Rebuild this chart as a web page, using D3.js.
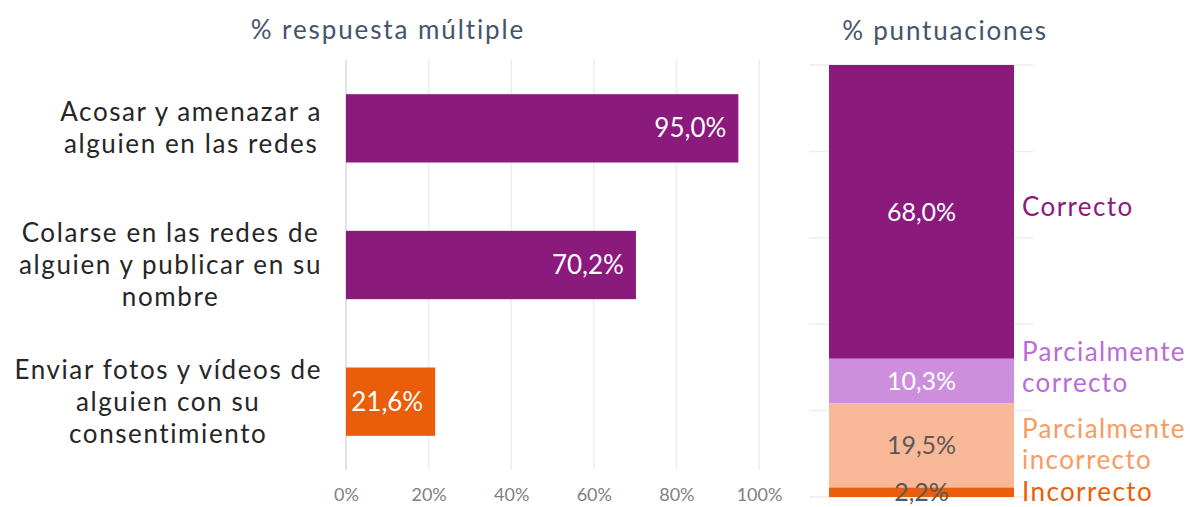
<!DOCTYPE html>
<html>
<head>
<meta charset="utf-8">
<script src="https://cdnjs.cloudflare.com/ajax/libs/d3/7.8.5/d3.min.js"></script>
<style>
  body { margin: 0; background: #fff; }
  text { font-family: "Lato", "Noto Sans", sans-serif; }
</style>
</head>
<body>
<script>
// left chart: % respuesta múltiple
var categories = [
  ["Acosar y amenazar a", "alguien en las redes"],
  ["Colarse en las redes de", "alguien y publicar en su", "nombre"],
  ["Enviar fotos y vídeos de", "alguien con su", "consentimiento"]
];
var values = [95.0, 70.2, 21.6];
var barColors = ["#8b1a7d", "#8b1a7d", "#e95d0b"];
var xTicks = [0, 20, 40, 60, 80, 100];

// right chart: % puntuaciones (stacked, top to bottom)
var scoreNames = [["Correcto"], ["Parcialmente", "correcto"], ["Parcialmente", "incorrecto"], ["Incorrecto"]];
var scoreValues = [68.0, 10.3, 19.5, 2.2];
var scoreColors = ["#8b1a7d", "#cc8edd", "#f9b897", "#e95d0b"];
var scoreLabelColors = ["#8b1a7d", "#b96cd6", "#f99a63", "#e95d0b"];
var scoreTextColors = ["#ffffff", "#ffffff", "#595959", "#595959"];

var W = 1190, H = 507;
var fmt = function(v) { return v.toFixed(1).replace(".", ",") + "%"; };

var svg = d3.select("body").append("svg")
    .attr("width", W)
    .attr("height", H);

// ---- left chart ----
var x = d3.scaleLinear().domain([0, 100]).range([346, 759]);
var y = d3.scaleBand().domain(d3.range(values.length)).range([60, 470])
    .paddingInner(0.5).paddingOuter(0.25);

svg.append("text")
    .attr("x", 388).attr("y", 39)
    .attr("text-anchor", "middle")
    .attr("fill", "#44546a")
    .style("font-size", "26px")
    .style("letter-spacing", "1.9px")
    .text("% respuesta  múltiple");

// gridlines
svg.append("g").selectAll("line")
    .data(xTicks)
  .enter().append("line")
    .attr("x1", function(d) { return x(d); })
    .attr("x2", function(d) { return x(d); })
    .attr("y1", 60).attr("y2", 470)
    .attr("stroke", function(d) { return d === 0 ? "#d9d9d9" : "#ededed"; })
    .attr("stroke-width", 1.5);

var xAxis = svg.append("g")
    .attr("transform", "translate(0,470)")
    .call(d3.axisBottom(x).tickValues(xTicks).tickSize(0).tickPadding(18)
      .tickFormat(function(d) { return d + "%"; }));
xAxis.select(".domain").remove();
xAxis.selectAll("text")
    .attr("fill", "#7f7f7f")
    .style("font-size", "18px")
    .style("font-family", "Lato, sans-serif");

svg.append("g").selectAll("rect")
    .data(values)
  .enter().append("rect")
    .attr("x", x(0))
    .attr("y", function(d, i) { return y(i); })
    .attr("width", function(d) { return x(d) - x(0); })
    .attr("height", y.bandwidth())
    .attr("fill", function(d, i) { return barColors[i]; });

svg.append("g").selectAll("text")
    .data(values)
  .enter().append("text")
    .attr("x", function(d) { return x(d) - 12; })
    .attr("y", function(d, i) { return y(i) + y.bandwidth() / 2 + 9; })
    .attr("text-anchor", "end")
    .attr("fill", "#fff")
    .style("font-size", "26px")
    .text(fmt);

// category labels: block right-aligned at 322, each line centred in the block
var cat = svg.append("g").selectAll("text")
    .data(categories)
  .enter().append("text")
    .attr("text-anchor", "middle")
    .attr("fill", "#262626")
    .style("font-size", "26px")
    .style("letter-spacing", "1.6px");
cat.each(function(lines, i) {
  var cy = y(i) + y.bandwidth() / 2;
  var lh = 32;
  var y0 = cy - (lines.length - 1) * lh / 2 + 9;
  var spans = d3.select(this).selectAll("tspan")
      .data(lines)
    .enter().append("tspan")
      .attr("y", function(d, j) { return y0 + j * lh; })
      .text(function(d) { return d; });
  var maxW = d3.max(spans.nodes(), function(n) { return n.getComputedTextLength(); });
  spans.attr("x", 322 - maxW / 2);
});

// ---- right chart ----
var y2 = d3.scaleLinear().domain([0, 100]).range([497, 65]);
var bx = 829, bw = 185;

svg.append("text")
    .attr("x", 945).attr("y", 40)
    .attr("text-anchor", "middle")
    .attr("fill", "#44546a")
    .style("font-size", "26px")
    .style("letter-spacing", "1.8px")
    .text("% puntuaciones");

svg.append("g").selectAll("line")
    .data(xTicks)
  .enter().append("line")
    .attr("x1", 809).attr("x2", 1033)
    .attr("y1", function(d) { return y2(d); })
    .attr("y2", function(d) { return y2(d); })
    .attr("stroke", "#ededed")
    .attr("stroke-width", 1.5);

var stack = [];
var acc = 100;
scoreValues.forEach(function(v, i) {
  stack.push({ top: acc, bottom: acc - v, v: v, i: i });
  acc -= v;
});

svg.append("g").selectAll("rect")
    .data(stack)
  .enter().append("rect")
    .attr("x", bx)
    .attr("y", function(d) { return y2(d.top); })
    .attr("width", bw)
    .attr("height", function(d) { return y2(d.bottom) - y2(d.top); })
    .attr("fill", function(d) { return scoreColors[d.i]; });

svg.append("g").selectAll("text")
    .data(stack)
  .enter().append("text")
    .attr("x", bx + bw / 2)
    .attr("y", function(d) { return (y2(d.top) + y2(d.bottom)) / 2 + 9; })
    .attr("text-anchor", "middle")
    .attr("fill", function(d) { return scoreTextColors[d.i]; })
    .style("font-size", "25px")
    .text(function(d) { return fmt(d.v); });

// series labels next to the stacked bar
var labelCenters = [207, 367, 444, 492];
var sl = svg.append("g").selectAll("text")
    .data(scoreNames)
  .enter().append("text")
    .attr("fill", function(d, i) { return scoreLabelColors[i]; })
    .style("font-size", "26px")
    .style("letter-spacing", "1.4px");
sl.each(function(lines, i) {
  var lh = 31;
  var y0 = labelCenters[i] - (lines.length - 1) * lh / 2 + 9;
  d3.select(this).selectAll("tspan")
      .data(lines)
    .enter().append("tspan")
      .attr("x", 1022)
      .attr("y", function(d, j) { return y0 + j * lh; })
      .text(function(d) { return d; });
});
</script>
</body>
</html>
